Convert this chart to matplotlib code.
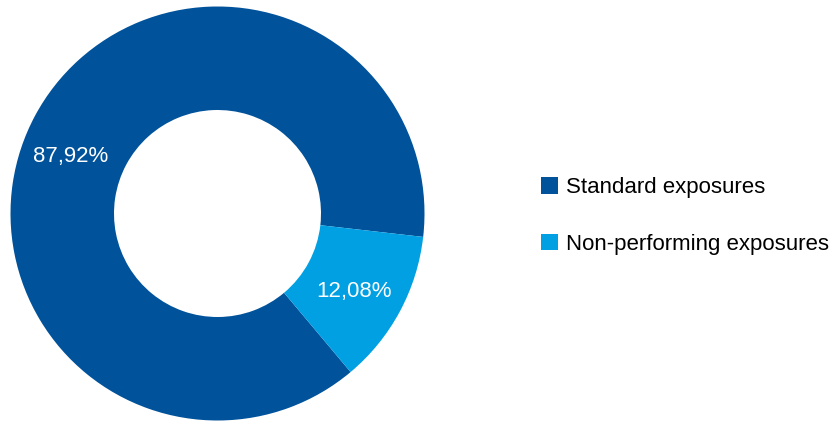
import numpy as np
import matplotlib.pyplot as plt
from matplotlib.patches import Patch

labels = ["Standard exposures", "Non-performing exposures"]
values = [87.92, 12.08]
pct_text = ["87,92%", "12,08%"]
colors = ["#00529B", "#00A0E3"]

plt.rcParams["font.family"] = ["Liberation Sans", "DejaVu Sans"]

fig = plt.figure(figsize=(8.33, 4.21), dpi=100)
ax = fig.add_axes([10 / 833, 0.5 / 421, 415 / 833, 414 / 421])
ax.set_aspect("equal")

wedges, _ = ax.pie(values, colors=colors, startangle=-6.5, counterclock=True,
                   radius=1.0, wedgeprops=dict(width=0.5, linewidth=0))
ax.set_xlim(-1, 1)
ax.set_ylim(-1, 1)

# label angle nudges (the big slice label sits a bit lower than mid-angle)
nudge = [7.0, -1.5]
for w, txt, dn in zip(wedges, pct_text, nudge):
    ang = np.deg2rad((w.theta1 + w.theta2) / 2 + dn)
    ax.text(0.76 * np.cos(ang), 0.76 * np.sin(ang), txt, color="white",
            fontsize=16, ha="center", va="center")

handles = [Patch(facecolor=c, edgecolor="none") for c in colors]
fig.legend(handles, labels, loc="center left", bbox_to_anchor=(532 / 833, 1 - 216 / 421),
           frameon=False, fontsize=16, handlelength=0.75, handleheight=0.75,
           handletextpad=0.4, labelspacing=1.6, borderaxespad=0, borderpad=0.4)

fig.savefig("out.png", dpi=100, facecolor="white")
